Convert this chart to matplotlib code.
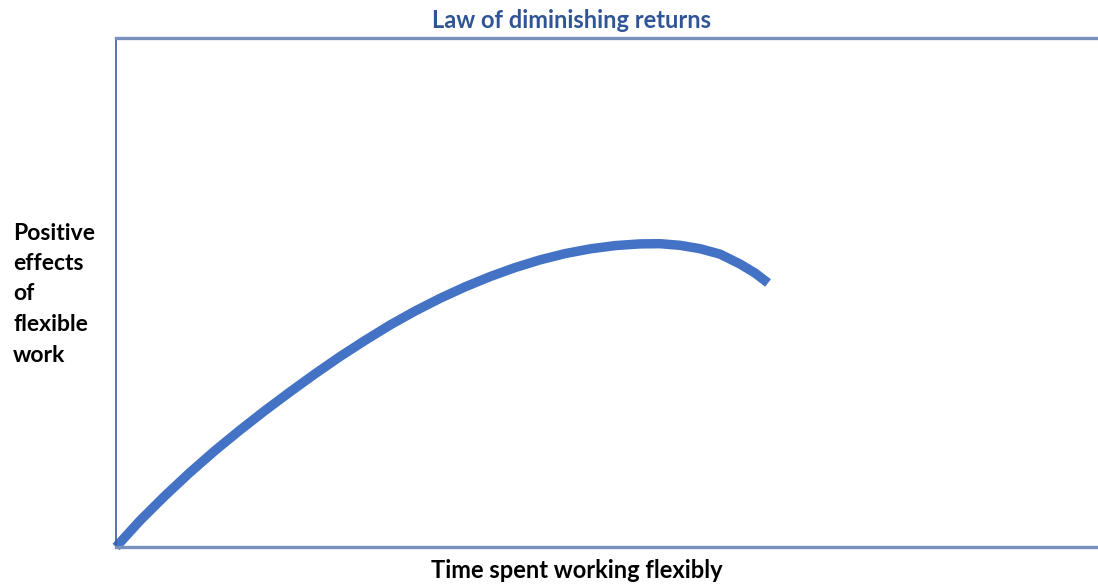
import matplotlib
matplotlib.use("Agg")
import matplotlib.pyplot as plt

# Data (arbitrary units, axes 0-100)
time_spent = [0, 2.44, 5.01, 7.54, 10.08, 12.63, 15.17, 17.72, 20.26, 22.81,
              25.36, 27.90, 30.45, 32.99, 35.54, 38.09, 40.63, 43.18, 45.72,
              48.27, 50.81, 53.36, 55.40, 57.43, 59.47, 61.51, 63.54, 65.07, 66.40]
positive_effect = [0, 5.18, 10.10, 14.66, 18.94, 22.97, 26.80, 30.47, 34.01, 37.41,
                   40.59, 43.60, 46.35, 48.84, 51.10, 53.12, 54.89, 56.41, 57.64,
                   58.57, 59.21, 59.55, 59.59, 59.27, 58.61, 57.54, 55.60, 53.83, 51.87]

title_text = "Law of diminishing returns"
x_label = "Time spent working flexibly"
y_label_lines = ["Positive", "effects", "of", "flexible", "work"]

W, H = 1098, 587
fig = plt.figure(figsize=(W / 100, H / 100), dpi=100)
ax = fig.add_axes([116 / W, (H - 547) / H, (W - 116) / W, (547 - 38) / H])

ax.plot(time_spent, positive_effect, color="#4472C4", lw=6.8,
        solid_capstyle="butt", solid_joinstyle="round", clip_on=False)
ax.set_xlim(0, 100)
ax.set_ylim(0, 100)
ax.set_xticks([])
ax.set_yticks([])

ax.spines["right"].set_visible(False)
ax.spines["left"].set_color("#3B5C9E")
ax.spines["left"].set_linewidth(1.2)
for s in ("top", "bottom"):
    ax.spines[s].set_color("#7A90BC")
    ax.spines[s].set_linewidth(2.4)

font = ["Lato", "DejaVu Sans"]
fig.text(572 / W, 1 - 20 / H, title_text, ha="center", va="center",
         fontsize=17, fontweight="bold", color="#2F5597", family=font)
fig.text(577 / W, 1 - 571 / H, x_label, ha="center", va="center",
         fontsize=17, fontweight="bold", color="black", family=font)
for i, line in enumerate(y_label_lines):
    fig.text(13 / W, 1 - (233 + i * 30.5) / H, line, ha="left", va="center",
             fontsize=16.5, fontweight="bold", color="black", family=font)

fig.savefig("out.png", dpi=100)
